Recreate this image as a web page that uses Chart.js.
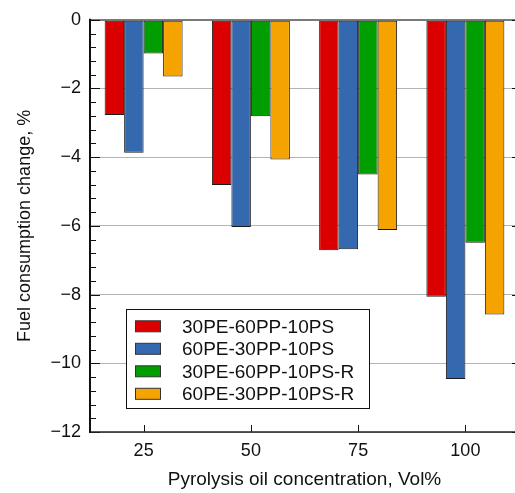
<!DOCTYPE html>
<html>
<head>
<meta charset="utf-8">
<script src="https://cdn.jsdelivr.net/npm/chart.js@4"></script>
<style>
  html, body { margin: 0; padding: 0; background: #fff; overflow: hidden; }
  #wrap { width: 515px; height: 493px; position: relative; overflow: hidden; }
</style>
</head>
<body>
<div id="wrap"><canvas id="c" width="519" height="493"></canvas></div>
<script>
const categories = ['25', '50', '75', '100'];
const seriesNames = ['30PE-60PP-10PS', '60PE-30PP-10PS', '30PE-60PP-10PS-R', '60PE-30PP-10PS-R'];
const s30PE60PP = [-2.77, -4.81, -6.71, -8.06];
const s60PE30PP = [-3.87, -6.03, -6.68, -10.46];
const s30PE60PPR = [-0.98, -2.81, -4.50, -6.49];
const s60PE30PPR = [-1.65, -4.07, -6.12, -8.58];
const yTicks = [0, -2, -4, -6, -8, -10, -12];
const colors = ['#da0000', '#3469b0', '#009e00', '#f5a300'];

const FONT = "'Liberation Sans', Arial, sans-serif";

const decor = {
  id: 'decor',
  afterDatasetsDraw(chart) {
    const ctx = chart.ctx;
    const ca = chart.chartArea;
    const y = chart.scales.y;
    const x = chart.scales.x;
    ctx.save();
    ctx.strokeStyle = '#111';
    ctx.lineWidth = 1;
    for (let i = 0; i <= 30; i++) {
      const v = -i * 0.4;
      const py = Math.round(y.getPixelForValue(v)) + 0.5;
      const major = (i % 5 === 0);
      ctx.beginPath();
      ctx.moveTo(ca.left, py);
      ctx.lineTo(ca.left + (major ? 10 : 6), py);
      ctx.stroke();
    }
    yTicks.forEach(v => {
      const py = Math.round(y.getPixelForValue(v)) + 0.5;
      ctx.beginPath();
      ctx.moveTo(ca.right, py);
      ctx.lineTo(ca.right - 7, py);
      ctx.stroke();
    });
    categories.forEach((c, i) => {
      const px = Math.round(x.getPixelForValue(i)) + 0.5;
      ctx.beginPath();
      ctx.moveTo(px, ca.bottom);
      ctx.lineTo(px, ca.bottom - 7);
      ctx.stroke();
    });
    ctx.strokeStyle = '#222';
    ctx.lineWidth = 1.5;
    ctx.beginPath();
    ctx.moveTo(ca.left, ca.bottom);
    ctx.lineTo(ca.right, ca.bottom);
    ctx.stroke();
    ctx.strokeStyle = '#111';
    ctx.lineWidth = 2;
    ctx.beginPath();
    ctx.moveTo(ca.left, ca.top - 1);
    ctx.lineTo(ca.left, ca.bottom + 1);
    ctx.stroke();

    // legend
    const lx = 126, ly = 309.5, lw = 243, lh = 99;
    ctx.fillStyle = '#fff';
    ctx.fillRect(lx, ly, lw, lh);
    ctx.strokeStyle = '#111';
    ctx.lineWidth = 1;
    ctx.strokeRect(lx + 0.5, ly, lw, lh);
    ctx.font = '19px ' + FONT;
    ctx.textBaseline = 'middle';
    ctx.textAlign = 'left';
    chart.data.datasets.forEach((ds, i) => {
      const cy = 326.3 + i * 22.5;
      ctx.fillStyle = ds.backgroundColor;
      ctx.fillRect(135, cy - 5.5, 25, 11);
      ctx.strokeStyle = '#333';
      ctx.strokeRect(135.5, cy - 5.5, 25, 11);
      ctx.fillStyle = '#111';
      ctx.fillText(ds.label, 182, cy + 1);
    });
    ctx.restore();
  }
};

const datasets = [s30PE60PP, s60PE30PP, s30PE60PPR, s60PE30PPR].map((d, i) => ({
  label: seriesNames[i],
  data: d,
  backgroundColor: colors[i],
  borderColor: '#1a1a1a',
  borderWidth: 1,
  borderSkipped: false,
  categoryPercentage: 0.727,
  barPercentage: 1.0
}));

new Chart(document.getElementById('c'), {
  type: 'bar',
  data: { labels: categories, datasets },
  options: {
    responsive: false,
    animation: false,
    devicePixelRatio: 1,
    layout: { padding: { top: 15, right: 0, left: 0, bottom: 0 } },
    plugins: { legend: { display: false }, tooltip: { enabled: false } },
    scales: {
      x: {
        grid: { display: false, drawTicks: false },
        border: { display: false },
        ticks: { color: '#111', font: { family: FONT, size: 18 }, padding: 8, maxRotation: 0 },
        title: { display: true, text: 'Pyrolysis oil concentration, Vol%', color: '#111',
                 font: { family: FONT, size: 19 }, padding: { top: 0, bottom: 2 } },
        afterFit: s => { s.height = 61; }
      },
      y: {
        min: -12, max: 0,
        afterBuildTicks: s => { s.ticks = yTicks.map(v => ({ value: v })); },
        grid: {
          drawTicks: false,
          color: c => (c.tick && c.tick.value === 0) ? '#7a7a7a' : '#b4b4b4',
          lineWidth: c => (c.tick && c.tick.value === 0) ? 2 : 1
        },
        border: { display: false },
        ticks: {
          color: '#111', font: { family: FONT, size: 18 }, padding: 9,
          callback: v => v < 0 ? '\u2212' + Math.abs(v) : String(v)
        },
        title: { display: true, text: 'Fuel consumption change, %', color: '#111',
                 font: { family: FONT, size: 18 }, padding: { top: 14, bottom: 0 } },
        afterFit: s => { s.width = 90; }
      }
    }
  },
  plugins: [decor]
});
</script>
</body>
</html>
